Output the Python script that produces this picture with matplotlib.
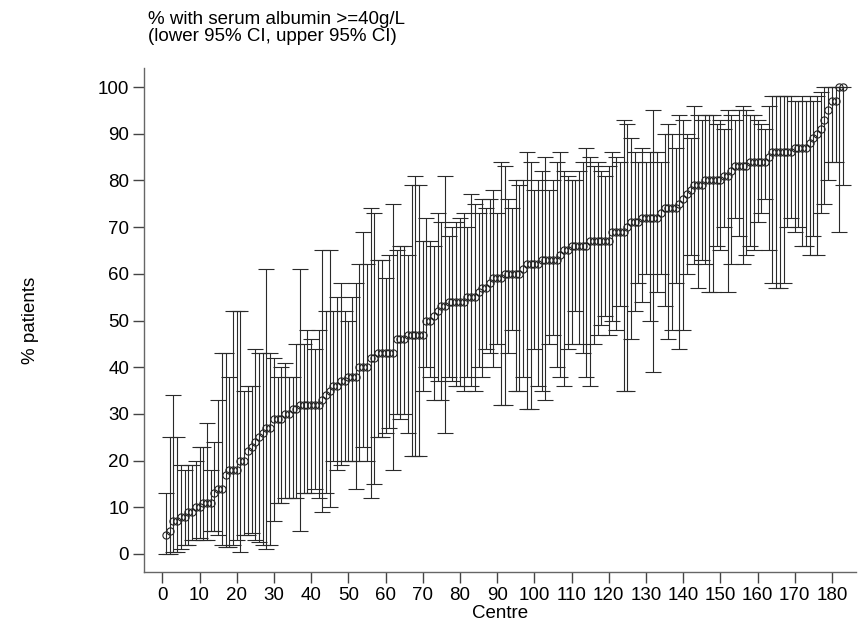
import numpy as np
import matplotlib
matplotlib.use("Agg")
import matplotlib.pyplot as plt

plt.rcParams['font.family'] = ['Liberation Sans', 'DejaVu Sans']

centre = list(range(1, 184))

pct = [4, 5, 7, 7, 8, 8, 9, 9, 10, 10, 11, 11, 11, 13, 14, 14, 17, 18, 18, 18,
       20, 20, 22, 23, 24, 25, 26, 27, 27, 29, 29, 29, 30, 30, 31, 31, 32, 32, 32, 32,
       32, 32, 33, 34, 35, 36, 36, 37, 37, 38, 38, 38, 40, 40, 40, 42, 42, 43, 43, 43,
       43, 43, 46, 46, 46, 47, 47, 47, 47, 47, 50, 50, 51, 52, 53, 53, 54, 54, 54, 54,
       54, 55, 55, 55, 56, 57, 57, 58, 59, 59, 59, 60, 60, 60, 60, 60, 61, 62, 62, 62,
       62, 63, 63, 63, 63, 63, 64, 65, 65, 66, 66, 66, 66, 66, 67, 67, 67, 67, 67, 67,
       69, 69, 69, 69, 70, 71, 71, 71, 72, 72, 72, 72, 72, 73, 74, 74, 74, 74, 75, 76,
       77, 78, 79, 79, 79, 80, 80, 80, 80, 80, 81, 81, 82, 83, 83, 83, 83, 84, 84, 84,
       84, 84, 85, 86, 86, 86, 86, 86, 86, 87, 87, 87, 87, 88, 89, 90, 91, 93, 95, 97,
       97, 100, 100]

lower = [0, 0, 0.5, 0.5, 1, 2, 2, 3, 3, 3.5, 3, 3, 5, 5, 4, 2, 1.5, 1.5, 2, 3,
         0.5, 4, 4, 4.5, 3, 2.5, 2, 1, 2, 7, 11, 11, 12, 12, 12, 12, 5, 13, 13, 13,
         14, 12, 9, 13, 10, 20, 18, 19, 20, 20, 20, 14, 20, 23, 20, 12, 15, 25, 25, 26,
         27, 18, 30, 29, 30, 26, 21, 21, 21, 35, 40, 38, 33, 37, 33, 26, 38, 37, 36, 36,
         35, 38, 36, 35, 40, 38, 44, 43, 40, 45, 32, 32, 43, 48, 35, 35, 38, 31, 31, 44,
         36, 35, 33, 45, 47, 40, 38, 36, 44, 45, 52, 45, 43, 38, 36, 45, 47, 49, 51, 47,
         50, 48, 53, 35, 35, 46, 52, 58, 54, 60, 50, 39, 56, 60, 53, 46, 48, 58, 44, 48,
         60, 64, 62, 57, 63, 62, 56, 56, 66, 65, 70, 56, 62, 72, 68, 62, 64, 66, 65, 71,
         73, 76, 65, 58, 57, 57, 58, 70, 72, 69, 70, 66, 66, 64, 68, 64, 73, 75, 80, 84,
         84, 69, 79]

upper = [13, 25, 34, 25, 19, 18, 19, 19, 20, 23, 23, 28, 18, 24, 33, 43, 43, 38, 52, 52,
         52, 35, 36, 36, 44, 43, 43, 61, 43, 42, 38, 40, 41, 38, 38, 45, 61, 45, 48, 46,
         44, 48, 65, 52, 65, 52, 55, 58, 52, 50, 55, 58, 62, 69, 62, 74, 73, 63, 63, 59,
         64, 75, 65, 66, 66, 64, 79, 81, 79, 67, 72, 67, 66, 73, 71, 81, 68, 70, 71, 72,
         73, 70, 77, 75, 73, 76, 74, 76, 78, 73, 84, 83, 76, 74, 80, 79, 80, 86, 84, 78,
         80, 82, 85, 78, 80, 84, 86, 82, 81, 80, 80, 82, 84, 87, 85, 83, 84, 82, 81, 83,
         86, 85, 84, 93, 92, 89, 86, 84, 87, 84, 86, 95, 86, 84, 90, 92, 90, 87, 94, 93,
         90, 89, 96, 94, 93, 94, 94, 94, 92, 93, 91, 95, 94, 93, 95, 96, 95, 94, 94, 93,
         92, 91, 96, 98, 98, 98, 98, 98, 98, 97, 97, 98, 97, 98, 97, 98, 99, 100, 100, 100,
         100, 100, 100]

x_ticks = list(range(0, 181, 10))
y_ticks = list(range(0, 101, 10))

x = np.array(centre)
p = np.array(pct, dtype=float)
lo = np.array(lower, dtype=float)
hi = np.array(upper, dtype=float)

fig = plt.figure(figsize=(8.64, 6.25), dpi=100)
W, H = 864, 625
ax = fig.add_axes([144.3 / W, 1 - 571.7 / H, (856 - 144.3) / W, (571.7 - 68.3) / H])

ax.errorbar(x, p, yerr=[p - lo, hi - p], fmt='none', ecolor='#2a2a2a',
            elinewidth=0.8, capsize=5.5, capthick=0.8)
ax.plot(x, p, 'o', mfc='none', mec='#222222', mew=0.8, ms=5.2, zorder=3)

ax.set_xlim((144.3 - 162.3) / 3.72, (856 - 162.3) / 3.72)
ax.set_ylim((554 - 571.7) / 4.67, (554 - 68.3) / 4.67)
ax.set_xticks(x_ticks)
ax.set_yticks(y_ticks)

for s in ['top', 'right']:
    ax.spines[s].set_visible(False)
for s in ['left', 'bottom']:
    ax.spines[s].set_color('#666666')
    ax.spines[s].set_linewidth(1.0)

ax.tick_params(axis='both', direction='out', length=8, width=1.0, color='#444444',
               labelsize=13.5, pad=3)

ax.set_xlabel('Centre', fontsize=13.5, labelpad=1)
ax.set_ylabel('% patients', fontsize=13.5, labelpad=42)

fig.text(148 / W, 1 - 11 / H, '% with serum albumin >=40g/L\n(lower 95% CI, upper 95% CI)',
         ha='left', va='top', fontsize=13.5, linespacing=1.0)

fig.savefig('out.png', dpi=100)
